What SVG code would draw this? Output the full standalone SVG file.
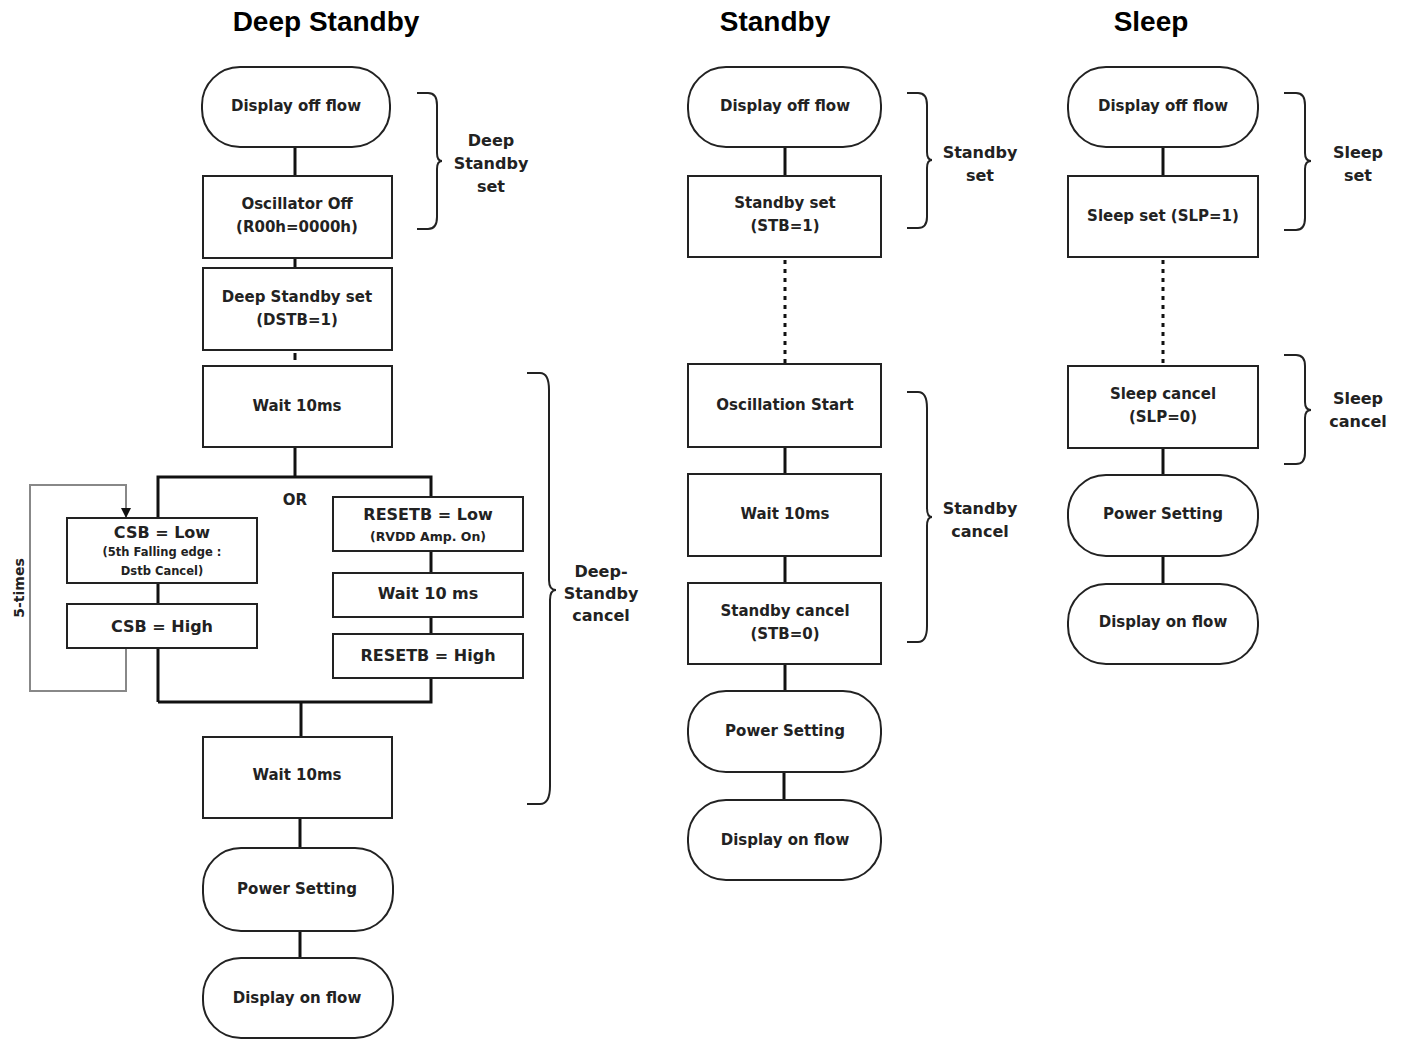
<svg xmlns="http://www.w3.org/2000/svg" width="1406" height="1039" viewBox="0 0 1406 1039">
<style>
  .title{font-family:"Liberation Sans",Arial,sans-serif;font-weight:bold;font-size:28px;fill:#000;text-anchor:middle}
  .t{font-family:"DejaVu Sans",Verdana,sans-serif;font-weight:bold;font-size:15px;fill:#222;text-anchor:middle;dominant-baseline:central}
  .s{font-family:"DejaVu Sans",Verdana,sans-serif;font-weight:bold;font-size:11.5px;fill:#222;text-anchor:middle;dominant-baseline:central}
  .lbl{font-family:"DejaVu Sans",Verdana,sans-serif;font-weight:bold;font-size:16px;fill:#222;text-anchor:middle;dominant-baseline:central}
  .box{fill:#fff;stroke:#222;stroke-width:2}
  .term{fill:#fff;stroke:#222;stroke-width:2}
  .ln{fill:none;stroke:#111;stroke-width:3}
  .dot{fill:none;stroke:#111;stroke-width:3;stroke-dasharray:4 5}
  .loop{fill:none;stroke:#888;stroke-width:2}
  .brace{fill:none;stroke:#222;stroke-width:2}
</style>
<defs>
  <marker id="arr" viewBox="0 0 10 10" refX="10" refY="5" markerWidth="10" markerHeight="10" markerUnits="userSpaceOnUse" orient="auto">
    <path d="M0,0 L10,5 L0,10 z" fill="#111"/>
  </marker>
</defs>

<text class="title" x="326" y="31">Deep Standby</text>
<text class="title" x="775" y="31">Standby</text>
<text class="title" x="1151" y="31">Sleep</text>

<g id="connectors">
  <!-- Deep standby -->
  <line class="ln" x1="295" y1="147" x2="295" y2="176"/>
  <line class="ln" x1="295" y1="258" x2="295" y2="268"/>
  <line class="ln" x1="295" y1="353" x2="295" y2="360"/>
  <line class="ln" x1="295" y1="447" x2="295" y2="477"/>
  <polyline class="ln" points="158,702 158,477 431,477 431,497"/>
  <line class="ln" x1="431" y1="551" x2="431" y2="573"/>
  <line class="ln" x1="431" y1="617" x2="431" y2="634"/>
  <polyline class="ln" points="431,678 431,702 158,702"/>
  <line class="ln" x1="301" y1="702" x2="301" y2="737"/>
  <line class="ln" x1="300" y1="818" x2="300" y2="848"/>
  <line class="ln" x1="300" y1="931" x2="300" y2="958"/>
  <polyline class="loop" points="126,648 126,691 30,691 30,485 126,485 126,518" marker-end="url(#arr)"/>
  <!-- Standby -->
  <line class="ln" x1="785" y1="147" x2="785" y2="176"/>
  <line class="dot" x1="785" y1="260" x2="785" y2="364"/>
  <line class="ln" x1="785" y1="447" x2="785" y2="474"/>
  <line class="ln" x1="785" y1="556" x2="785" y2="583"/>
  <line class="ln" x1="785" y1="664" x2="785" y2="691"/>
  <line class="ln" x1="784" y1="772" x2="784" y2="800"/>
  <!-- Sleep -->
  <line class="ln" x1="1163" y1="147" x2="1163" y2="176"/>
  <line class="dot" x1="1163" y1="260" x2="1163" y2="364"/>
  <line class="ln" x1="1163" y1="448" x2="1163" y2="475"/>
  <line class="ln" x1="1163" y1="556" x2="1163" y2="584"/>
</g>

<!-- Deep Standby column -->
<g id="ds-display-off"><rect class="term" x="202" y="67" width="188" height="80" rx="38"/><text class="t" x="296" y="106">Display off flow</text></g>
<g id="ds-osc-off"><rect class="box" x="203" y="176" width="189" height="82"/><text class="t" x="297" y="204">Oscillator Off</text><text class="t" x="297" y="227">(R00h=0000h)</text></g>
<g id="ds-dstb-set"><rect class="box" x="203" y="268" width="189" height="82"/><text class="t" x="297" y="297">Deep Standby set</text><text class="t" x="297" y="320">(DSTB=1)</text></g>
<g id="ds-wait1"><rect class="box" x="203" y="366" width="189" height="81"/><text class="t" x="297" y="406">Wait 10ms</text></g>
<g id="ds-or"><text class="t" x="295" y="500">OR</text></g>
<g id="ds-csb-low"><rect class="box" x="67" y="518" width="190" height="65"/><text class="t" x="162" y="532" style="font-size:16px">CSB = Low</text><text class="s" x="162" y="552">(5th Falling edge :</text><text class="s" x="162" y="571">Dstb Cancel)</text></g>
<g id="ds-csb-high"><rect class="box" x="67" y="604" width="190" height="44"/><text class="t" x="162" y="626" style="font-size:16px">CSB = High</text></g>
<g id="ds-resetb-low"><rect class="box" x="333" y="497" width="190" height="54"/><text class="t" x="428" y="514" style="font-size:16px">RESETB = Low</text><text class="s" x="428" y="536" style="font-size:12.5px">(RVDD Amp. On)</text></g>
<g id="ds-wait-10"><rect class="box" x="333" y="573" width="190" height="44"/><text class="t" x="428" y="593" style="font-size:16px">Wait 10 ms</text></g>
<g id="ds-resetb-high"><rect class="box" x="333" y="634" width="190" height="44"/><text class="t" x="428" y="655" style="font-size:16px">RESETB = High</text></g>
<g id="ds-loop-label"><text class="t" x="19" y="588" transform="rotate(-90 19 588)" style="font-size:14px">5-times</text></g>
<g id="ds-wait2"><rect class="box" x="203" y="737" width="189" height="81"/><text class="t" x="297" y="775">Wait 10ms</text></g>
<g id="ds-power"><rect class="term" x="203" y="848" width="190" height="83" rx="38"/><text class="t" x="297" y="889">Power Setting</text></g>
<g id="ds-display-on"><rect class="term" x="203" y="958" width="190" height="80" rx="38"/><text class="t" x="297" y="998">Display on flow</text></g>
<g id="ds-brace-set"><path class="brace" d="M417,93 H428 Q437,93 437,105 V153 Q437,161 442,161 Q437,161 437,169 V217 Q437,229 428,229 H417"/><text class="lbl" x="491" y="140">Deep</text><text class="lbl" x="491" y="163">Standby</text><text class="lbl" x="491" y="186">set</text></g>
<g id="ds-brace-cancel"><path class="brace" d="M527,373 H540 Q549,373 549,390 V580 Q549,590 556,590 Q550,590 550,600 V786 Q550,804 540,804 H527"/><text class="lbl" x="601" y="571">Deep-</text><text class="lbl" x="601" y="593">Standby</text><text class="lbl" x="601" y="615">cancel</text></g>

<!-- Standby column -->
<g id="sb-display-off"><rect class="term" x="688" y="67" width="193" height="80" rx="38"/><text class="t" x="785" y="106">Display off flow</text></g>
<g id="sb-set"><rect class="box" x="688" y="176" width="193" height="81"/><text class="t" x="785" y="203">Standby set</text><text class="t" x="785" y="226">(STB=1)</text></g>
<g id="sb-osc"><rect class="box" x="688" y="364" width="193" height="83"/><text class="t" x="785" y="405">Oscillation Start</text></g>
<g id="sb-wait"><rect class="box" x="688" y="474" width="193" height="82"/><text class="t" x="785" y="514">Wait 10ms</text></g>
<g id="sb-cancel"><rect class="box" x="688" y="583" width="193" height="81"/><text class="t" x="785" y="611">Standby cancel</text><text class="t" x="785" y="634">(STB=0)</text></g>
<g id="sb-power"><rect class="term" x="688" y="691" width="193" height="81" rx="38"/><text class="t" x="785" y="731">Power Setting</text></g>
<g id="sb-display-on"><rect class="term" x="688" y="800" width="193" height="80" rx="38"/><text class="t" x="785" y="840">Display on flow</text></g>
<g id="sb-brace-set"><path class="brace" d="M907,93 H918 Q927,93 927,105 V152 Q927,160 932,160 Q927,160 927,168 V217 Q927,228 918,228 H907"/><text class="lbl" x="980" y="152">Standby</text><text class="lbl" x="980" y="175">set</text></g>
<g id="sb-brace-cancel"><path class="brace" d="M907,392 H918 Q927,392 927,408 V508 Q927,517 932,517 Q927,517 927,526 V626 Q927,642 918,642 H907"/><text class="lbl" x="980" y="508">Standby</text><text class="lbl" x="980" y="531">cancel</text></g>

<!-- Sleep column -->
<g id="sl-display-off"><rect class="term" x="1068" y="67" width="190" height="80" rx="38"/><text class="t" x="1163" y="106">Display off flow</text></g>
<g id="sl-set"><rect class="box" x="1068" y="176" width="190" height="81"/><text class="t" x="1163" y="216">Sleep set (SLP=1)</text></g>
<g id="sl-cancel"><rect class="box" x="1068" y="366" width="190" height="82"/><text class="t" x="1163" y="394">Sleep cancel</text><text class="t" x="1163" y="417">(SLP=0)</text></g>
<g id="sl-power"><rect class="term" x="1068" y="475" width="190" height="81" rx="38"/><text class="t" x="1163" y="514">Power Setting</text></g>
<g id="sl-display-on"><rect class="term" x="1068" y="584" width="190" height="80" rx="38"/><text class="t" x="1163" y="622">Display on flow</text></g>
<g id="sl-brace-set"><path class="brace" d="M1284,93 H1296 Q1305,93 1305,105 V153 Q1305,161 1311,161 Q1305,161 1305,169 V218 Q1305,230 1296,230 H1284"/><text class="lbl" x="1358" y="152">Sleep</text><text class="lbl" x="1358" y="175">set</text></g>
<g id="sl-brace-cancel"><path class="brace" d="M1284,355 H1296 Q1305,355 1305,366 V402 Q1305,410 1311,410 Q1305,410 1305,418 V453 Q1305,464 1296,464 H1284"/><text class="lbl" x="1358" y="398">Sleep</text><text class="lbl" x="1358" y="421">cancel</text></g>
</svg>
